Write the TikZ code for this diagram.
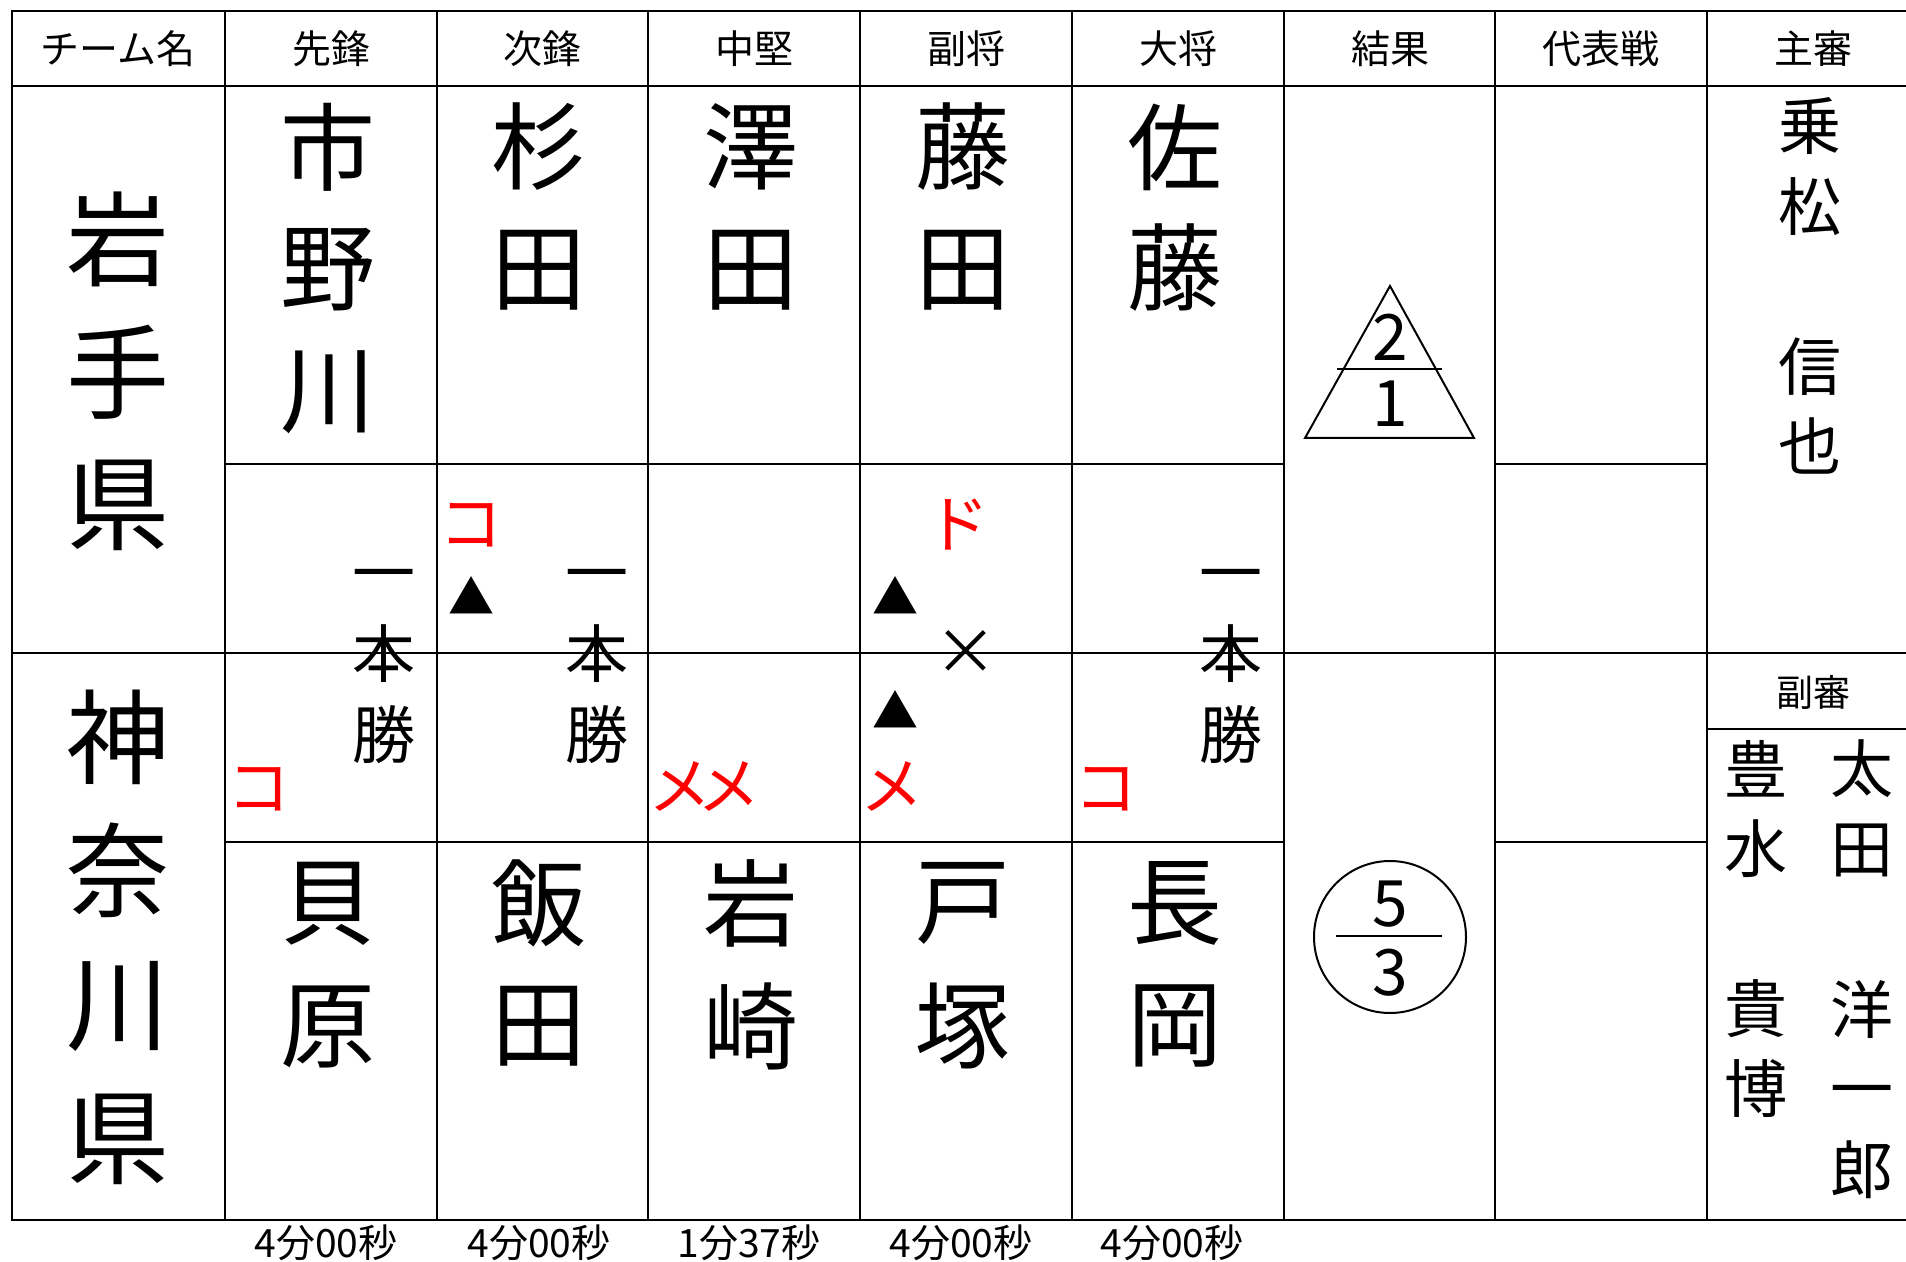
\documentclass[tikz,border=0pt]{standalone}
\usepackage{fontspec}
\setmainfont{Noto Sans CJK JP}
\definecolor{mark}{RGB}{255,0,0}
\begin{document}
\begin{tikzpicture}[x=0.5pt,y=-0.5pt,
  tbl/.style={line width=1.3pt,line cap=rect},
  thin/.style={line width=1pt},
  hdr/.style={inner sep=0pt,font=\fontsize{19.5}{20}\selectfont},
  sub/.style={inner sep=0pt,font=\fontsize{18.5}{19}\selectfont},
  big/.style={inner sep=0pt,font=\fontsize{47.5}{48}\selectfont},
  team/.style={inner sep=0pt,font=\fontsize{51.5}{52}\selectfont},
  mid/.style={inner sep=0pt,font=\fontsize{31.5}{32}\selectfont},
  tri/.style={inner sep=0pt,font=\fontsize{23}{24}\selectfont},
  red/.style={mid,text=mark},
  num/.style={inner sep=0pt,font=\fontsize{32}{32}\selectfont},
  tim/.style={inner sep=0pt,font=\fontsize{19.5}{20}\selectfont}]
\useasboundingbox (0,0) rectangle (1906,1262);
\fill[white] (0,0) rectangle (1906,1262);
% grid
\draw[tbl] (12,11) -- (1912,11);
\draw[tbl] (12,86) -- (1912,86);
\draw[tbl] (12,653) -- (1912,653);
\draw[tbl] (12,1220) -- (1912,1220);
\draw[tbl] (225,464) -- (1284,464) (1495,464) -- (1707,464);
\draw[tbl] (225,842) -- (1284,842) (1495,842) -- (1707,842);
\draw[tbl] (1707,729) -- (1912,729);
\foreach \x in {12,225,437,648,860,1072,1284,1495,1707}
  \draw[tbl] (\x,11) -- (\x,1220);
% headers
\node[hdr] (h0) at (118,49) {チーム名};
\node[hdr] (h1) at (331,49) {先鋒};
\node[hdr] (h2) at (542,49) {次鋒};
\node[hdr] (h3) at (754,49) {中堅};
\node[hdr] (h4) at (966,49) {副将};
\node[hdr] (h5) at (1178,49) {大将};
\node[hdr] (h6) at (1390,49) {結果};
\node[hdr] (h7) at (1601,49) {代表戦};
\node[hdr] (h8) at (1813,49) {主審};
\node[sub] (h9) at (1813,692) {副審};
% team names
\node[team] (ta1) at (118,239) {岩};
\node[team] (ta2) at (118,372) {手};
\node[team] (ta3) at (118,505) {県};
\node[team] (tb1) at (118,737) {神};
\node[team] (tb2) at (118,870) {奈};
\node[team] (tb3) at (118,1006) {川};
\node[team] (tb4) at (118,1139) {県};
% upper players
\node[big] (a11) at (328,147) {市};
\node[big] (a12) at (328,270) {野};
\node[big] (a13) at (328,392) {川};
\node[big] (a21) at (539,147) {杉};
\node[big] (a22) at (539,270) {田};
\node[big] (a31) at (751,147) {澤};
\node[big] (a32) at (751,270) {田};
\node[big] (a41) at (963,147) {藤};
\node[big] (a42) at (963,270) {田};
\node[big] (a51) at (1175,147) {佐};
\node[big] (a52) at (1175,268) {藤};
% lower players
\node[big] (b11) at (328,904) {貝};
\node[big] (b12) at (328,1027) {原};
\node[big] (b21) at (539,903) {飯};
\node[big] (b22) at (539,1026) {田};
\node[big] (b31) at (751,903) {岩};
\node[big] (b32) at (751,1026) {崎};
\node[big] (b41) at (963,903) {戸};
\node[big] (b42) at (963,1026) {塚};
\node[big] (b51) at (1175,903) {長};
\node[big] (b52) at (1175,1026) {岡};
% ippon gachi
\foreach \n/\x in {w1/384,w2/597,w5/1231}{
  \node[mid] (\n a) at (\x,583) {一};
  \node[mid] (\n b) at (\x,654) {本};
  \node[mid] (\n c) at (\x,735) {勝};
}
% marks
\node[red] (m1) at (471,525) {コ};
\node[tri] (m2) at (471,596) {▲};
\node[red] (m3) at (259,789) {コ};
\node[red] (m4) at (704,787) {メ\kern-7pt メ};
\node[red] (m5) at (958,525) {ド};
\node[tri] (m6) at (895,596) {▲};
\node[mid] (m7) at (966,653) {×};
\node[tri] (m8) at (895,709) {▲};
\node[red] (m9) at (892,787) {メ};
\node[red] (m10) at (1106,789) {コ};
% result
\draw[thin] (1390,286) -- (1474,438) -- (1305,438) -- cycle;
\draw[thin] (1337,369.5) -- (1442,369.5);
\node[num] (r2) at (1390,337) {2};
\node[num] (r1) at (1390,404) {1};
\draw[thin] (1390,937) circle[radius=38pt];
\draw[thin] (1336,936) -- (1442,936);
\node[num] (r5) at (1390,904) {5};
\node[num] (r3) at (1390,973) {3};
% referees
\node[mid] (s1) at (1810,126) {乗};
\node[mid] (s2) at (1810,207) {松};
\node[mid] (s3) at (1810,367) {信};
\node[mid] (s4) at (1810,446) {也};
\node[mid] (u1) at (1756,769) {豊};
\node[mid] (u2) at (1756,849) {水};
\node[mid] (u3) at (1756,1009) {貴};
\node[mid] (u4) at (1756,1089) {博};
\node[mid] (v1) at (1862,769) {太};
\node[mid] (v2) at (1862,850) {田};
\node[mid] (v3) at (1862,1010) {洋};
\node[mid] (v4) at (1862,1099) {一};
\node[mid] (v5) at (1862,1170) {郎};
% times
\node[tim] (t1) at (326,1243) {4分00秒};
\node[tim] (t2) at (539,1243) {4分00秒};
\node[tim] (t3) at (749,1243) {1分37秒};
\node[tim] (t4) at (961,1243) {4分00秒};
\node[tim] (t5) at (1172,1243) {4分00秒};
\end{tikzpicture}
\end{document}
